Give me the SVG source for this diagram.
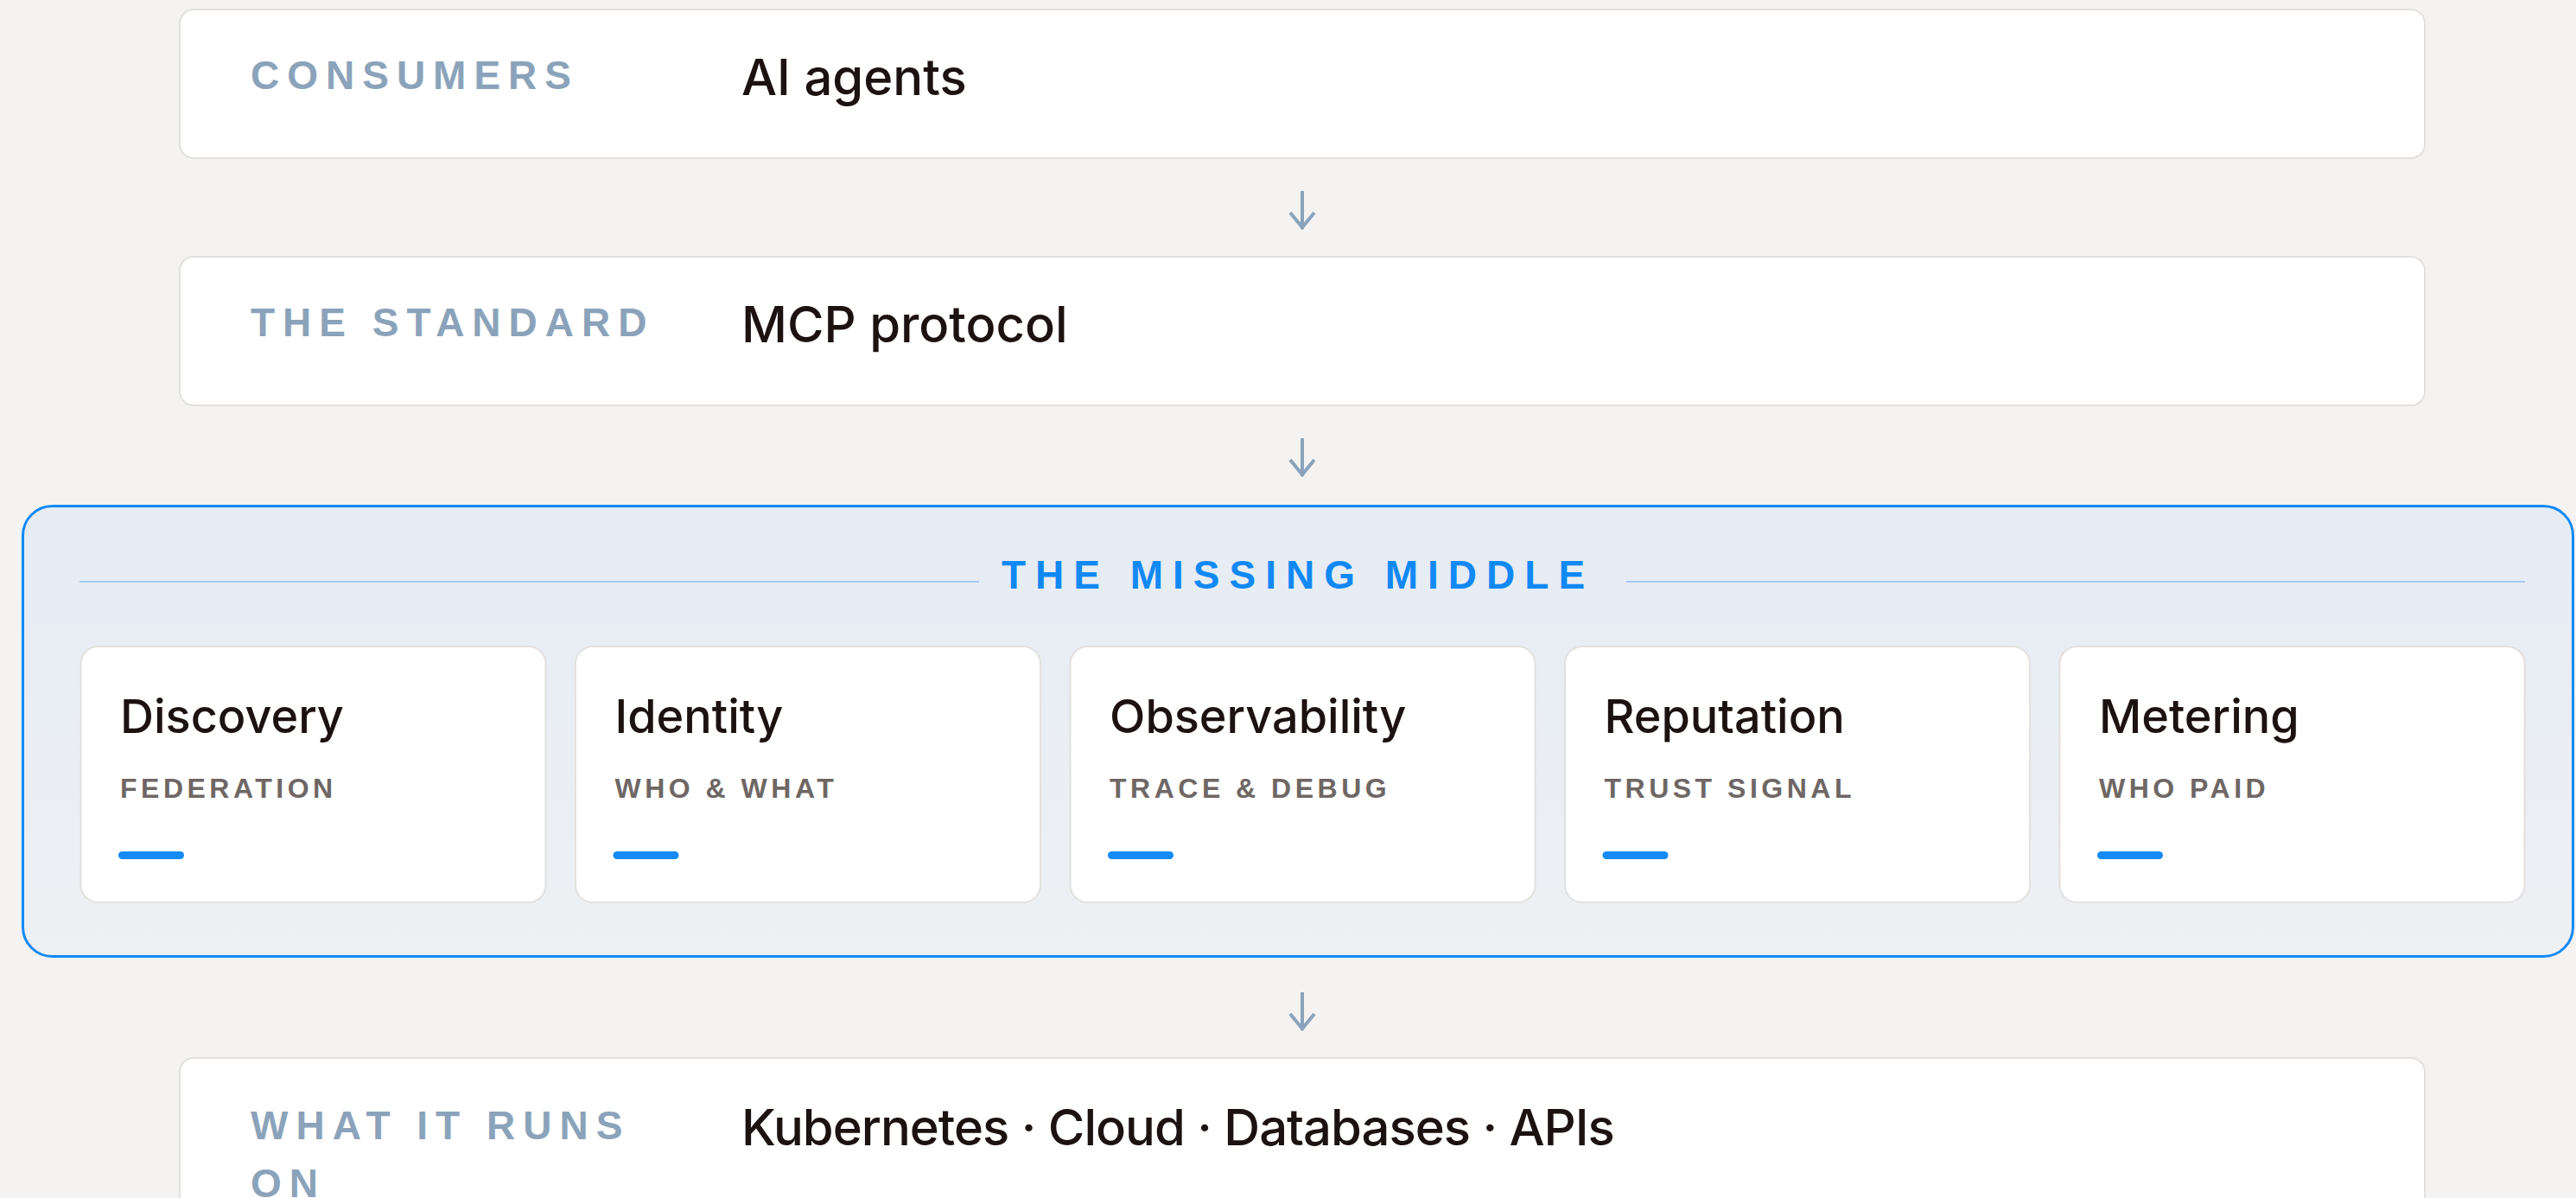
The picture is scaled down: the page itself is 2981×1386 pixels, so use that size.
<svg xmlns="http://www.w3.org/2000/svg" width="2981" height="1386" viewBox="0 0 2981 1386">
  <defs>
    <linearGradient id="middleFill" x1="0" y1="0" x2="0" y2="1">
      <stop offset="0" stop-color="#e5ecf4"/>
      <stop offset="1" stop-color="#eef0f3"/>
    </linearGradient>
    <style>
      .layer { fill: #ffffff; stroke: #e3e0dd; stroke-width: 2; }
      .card { fill: #ffffff; stroke: #e3e0dd; stroke-width: 2; }
      .label { font-family: "Liberation Sans", Arial, sans-serif; font-weight: 700; font-size: 46px; letter-spacing: 9px; fill: #8ba3ba; }
      .value { font-family: Inter, "Liberation Sans", sans-serif; font-weight: 500; font-size: 58px; letter-spacing: 0px; fill: #1c1210; }
      .value.tight { letter-spacing: -1px; }
      .title { font-family: "Liberation Sans", Arial, sans-serif; font-weight: 700; font-size: 46px; letter-spacing: 11px; fill: #1189f5; }
      .rule { stroke: #a6cbf2; stroke-width: 2; }
      .card-title { font-family: Inter, "Liberation Sans", sans-serif; font-weight: 500; font-size: 54px; letter-spacing: 0px; fill: #1c1210; }
      .card-sub { font-family: "Liberation Sans", Arial, sans-serif; font-weight: 700; font-size: 32px; letter-spacing: 4.5px; fill: #6e6764; }
      .bar { fill: #148bf7; }
      .arrow { fill: none; stroke: #8ba3ba; stroke-width: 4; }
    </style>
  </defs>

  <!-- page background -->
  <rect x="0" y="0" width="2981" height="1386" fill="#f4f3f1"/>

  <!-- top layer -->
  <g id="consumers">
    <rect class="layer" x="208" y="11" width="2598" height="172" rx="16"/>
    <text class="label" x="290" y="103">CONSUMERS</text>
    <text class="value" x="858" y="110">AI agents</text>
  </g>

  <g id="standard">
    <rect class="layer" x="208" y="297" width="2598" height="172" rx="16"/>
    <text class="label" x="290" y="389">THE STANDARD</text>
    <text class="value" x="858" y="396">MCP protocol</text>
  </g>

  <!-- middle layer with its five capability cards -->
  <g id="missing-middle">
    <rect x="26.5" y="585.5" width="2951" height="521" rx="34" fill="url(#middleFill)" stroke="#1389f5" stroke-width="3"/>
    <line class="rule" x1="92" y1="673" x2="1133" y2="673"/>
    <line class="rule" x1="1882" y1="673" x2="2922" y2="673"/>
    <text class="title" x="1502" y="681" text-anchor="middle">THE MISSING MIDDLE</text>
  </g>

  <g id="discovery">
    <rect class="card" x="93.5" y="748" width="538" height="296" rx="20"/>
    <text class="card-title" x="139" y="848">Discovery</text>
    <text class="card-sub" x="139" y="923">FEDERATION</text>
    <rect class="bar" x="137" y="985" width="76" height="9" rx="4.5"/>
  </g>

  <g id="identity">
    <rect class="card" x="666" y="748" width="538" height="296" rx="20"/>
    <text class="card-title" x="711.5" y="848">Identity</text>
    <text class="card-sub" x="711.5" y="923">WHO &amp; WHAT</text>
    <rect class="bar" x="709.5" y="985" width="76" height="9" rx="4.5"/>
  </g>

  <g id="observability">
    <rect class="card" x="1238.5" y="748" width="538" height="296" rx="20"/>
    <text class="card-title" x="1284" y="848">Observability</text>
    <text class="card-sub" x="1284" y="923">TRACE &amp; DEBUG</text>
    <rect class="bar" x="1282" y="985" width="76" height="9" rx="4.5"/>
  </g>

  <g id="reputation">
    <rect class="card" x="1811" y="748" width="538" height="296" rx="20"/>
    <text class="card-title" x="1856.5" y="848">Reputation</text>
    <text class="card-sub" x="1856.5" y="923">TRUST SIGNAL</text>
    <rect class="bar" x="1854.5" y="985" width="76" height="9" rx="4.5"/>
  </g>

  <g id="metering">
    <rect class="card" x="2383.5" y="748" width="538" height="296" rx="20"/>
    <text class="card-title" x="2429" y="848">Metering</text>
    <text class="card-sub" x="2429" y="923">WHO PAID</text>
    <rect class="bar" x="2427" y="985" width="76" height="9" rx="4.5"/>
  </g>

  <!-- bottom layer, runs past the lower edge -->
  <g id="runs-on">
    <rect class="layer" x="208" y="1224" width="2598" height="190" rx="16"/>
    <text class="label" x="290" y="1318">WHAT IT RUNS</text>
    <text class="label" x="290" y="1385">ON</text>
    <text class="value tight" x="858" y="1325">Kubernetes · Cloud · Databases · APIs</text>
  </g>

  <!-- downward connectors between layers -->
  <g id="connectors">
    <path class="arrow" d="M1507 221 V265 M1493 246 L1507 263 L1521 246"/>
    <path class="arrow" d="M1507 507 V551 M1493 532 L1507 549 L1521 532"/>
    <path class="arrow" d="M1507 1148 V1192 M1493 1173 L1507 1190 L1521 1173"/>
  </g>
</svg>
